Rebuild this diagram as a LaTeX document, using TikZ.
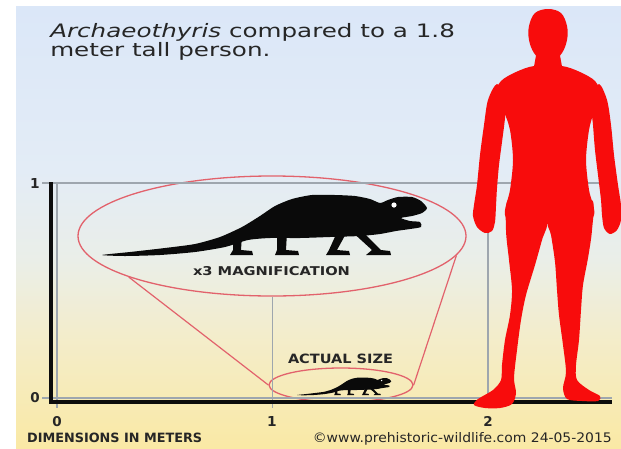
\documentclass[tikz,border=0pt]{standalone}
\usepackage{fontspec}
\usepackage{graphicx}
\setmainfont{DejaVu Sans}
\usetikzlibrary{shapes.geometric}

\definecolor{bgA}{RGB}{219,231,248}
\definecolor{bgB}{RGB}{227,236,246}
\definecolor{bgC}{RGB}{234,238,232}
\definecolor{bgD}{RGB}{243,237,205}
\definecolor{bgE}{RGB}{250,233,165}
\definecolor{gridgray}{RGB}{158,166,174}
\definecolor{axisblack}{RGB}{12,12,12}
\definecolor{ringred}{RGB}{226,98,108}
\definecolor{personred}{RGB}{248,12,12}
\definecolor{dinoblack}{RGB}{10,10,10}
\definecolor{inkgray}{RGB}{38,38,38}

% Archaeothyris silhouette, drawn in its full-size position
\newcommand{\archdino}{%
  \fill[dinoblack] plot[smooth cycle, tension=0.4] coordinates {
    (102,255) (130,252) (165,248) (195,244) (220,237) (242,227) (260,216)
    (275,206) (292,199) (312,195) (335,195) (355,196) (370,199) (380,203)
    (388,200) (398,197) (412,197) (421,201) (427,208) (422,213) (412,216)
    (401,218) (410,221) (420,222) (421,227) (410,229) (396,231) (380,234)
    (360,236) (330,237) (300,238) (270,238) (248,240) (225,247) (195,252)
    (160,255) (125,256)};
  % legs and feet
  \fill[dinoblack] (233,235) -- (242,235) -- (241,250) -- (252,251) -- (253,255) -- (230,255) -- (233,250) -- cycle;
  \fill[dinoblack] (277,232) -- (287,232) -- (286,250) -- (298,251) -- (299,255) -- (275,255) -- (277,250) -- cycle;
  \fill[dinoblack] (338,230) -- (348,230) -- (337,250) -- (349,251) -- (350,255) -- (326,255) -- (329,250) -- cycle;
  \fill[dinoblack] (349,229) -- (360,229) -- (381,250) -- (390,251) -- (391,255) -- (366,255) -- (372,250) -- cycle;
  % eye
  \fill[white] (394,205) circle[radius=2.6];
}

\begin{document}
\begin{tikzpicture}[x=1pt,y=-1pt,
  gridline/.style={draw=gridgray, line width=1.4pt},
  axisline/.style={draw=axisblack, line width=4pt, line join=miter},
  zoomring/.style={shape=ellipse, draw=ringred, line width=1.3pt, inner sep=0pt},
  zoomray/.style={draw=ringred, line width=1.2pt},
  inktext/.style={text=inkgray, inner sep=0pt},
  bodypart/.style={fill=personred},
]
\useasboundingbox (0,0) rectangle (621,448);
\fill[white] (0,0) rectangle (621,448);

\begin{scope}
\clip (0,0) rectangle (621,448);

% sky-to-sand background
\shade[top color=bgA, bottom color=bgB] (16,6) rectangle (621,171);
\shade[top color=bgB, bottom color=bgC] (16,170) rectangle (621,261);
\shade[top color=bgC, bottom color=bgD] (16,260) rectangle (621,331);
\shade[top color=bgD, bottom color=bgE] (16,330) rectangle (621,448);

% magnifier rings
\node[zoomring, minimum width=388pt, minimum height=120pt] (bigview) at (272,236) {};
\node[zoomring, minimum width=144pt, minimum height=34pt] (smallview) at (341,385) {};
\draw[zoomray] (bigview.196) -- (smallview.west);
\draw[zoomray] (bigview.354) -- (smallview.east);

% grid
\coordinate (g1l) at (42,183);  \coordinate (g1r) at (612,183);
\coordinate (g0l) at (42,398);  \coordinate (g0r) at (612,398);
\coordinate (v0t) at (57,183);  \coordinate (v0b) at (57,408);
\coordinate (v1b) at (272,408);
\coordinate (v2t) at (488,183); \coordinate (v2b) at (488,408);
\draw[gridline] (g1l) -- (g1r);
\draw[gridline] (g0l) -- (g0r);
\draw[gridline] (v0t) -- (v0b);
\draw[gridline, line width=1pt] (bigview.south) -- (v1b);
\draw[gridline] (v2t) -- (v2b);

% axes
\coordinate (ytip) at (51,182);
\coordinate (origin) at (51,402);
\coordinate (xtip) at (612,402);
\draw[axisline] (ytip) -- (origin) -- (xtip);

% the animal, magnified and at scale
\archdino
\begin{scope}[shift={(297,395)}, scale=0.29, shift={(-102,-255)}]
  \archdino
\end{scope}

% 1.8 m person, built from overlapping body parts
% head and neck
\fill[bodypart] plot[smooth cycle, tension=0.6] coordinates {
  (548,9) (561,13) (567,26) (567,40) (562,53) (553,61) (543,61) (534,53) (529,40) (529,26) (535,13)};
\fill[bodypart] (537,50) -- (559,50) -- (563,72) -- (533,72) -- cycle;
% torso
\fill[bodypart] plot[smooth cycle, tension=0.5] coordinates {
  (534,66) (562,66) (580,72) (595,81) (601,95) (594,112) (589,130) (586,160)
  (589,190) (594,215) (575,230) (547,224) (520,230) (505,215) (510,190) (513,160)
  (510,130) (504,112) (495,95) (501,81) (516,72)};
% left arm
\fill[bodypart] plot[smooth cycle, tension=0.5] coordinates {
  (497,84) (488,100) (484,125) (480,155) (477,185) (474,205) (473,216) (477,227)
  (485,233) (492,231) (495,222) (496,206) (497,188) (499,165) (502,142) (505,118)
  (506,98)};
% right arm
\fill[bodypart] plot[smooth cycle, tension=0.5] coordinates {
  (599,84) (607,100) (611,125) (614,155) (618,185) (621,205) (621,220) (617,230)
  (610,234) (604,228) (602,215) (601,200) (598,175) (595,150) (593,125) (591,100)};
% left leg
\fill[bodypart] plot[smooth cycle, tension=0.5] coordinates {
  (508,200) (506,230) (509,260) (512,290) (510,315) (505,340) (502,365) (501,380)
  (493,390) (478,399) (474,405) (485,408) (500,408) (512,404) (516,393) (514,378)
  (517,350) (521,320) (526,295) (535,265) (542,240) (547,222) (530,212)};
% right leg
\fill[bodypart] plot[smooth cycle, tension=0.5] coordinates {
  (592,200) (592,230) (588,258) (583,285) (581,310) (579,340) (576,365) (577,380)
  (589,390) (600,396) (598,401) (582,401) (567,399) (563,388) (566,372) (563,345)
  (559,315) (557,290) (555,262) (551,235) (548,222) (565,212)};

% texts
\node[inktext, anchor=base west, xscale=1.33, font=\fontsize{18.5}{18.5}\selectfont] (title1) at (50,37.5) {\textit{Archaeothyris} compared to a 1.8};
\node[inktext, anchor=base west, xscale=1.33, font=\fontsize{18.5}{18.5}\selectfont] (title2) at (50,56) {meter tall person.};
\node[inktext, anchor=base] (magnote) at (271.5,275.5) {\resizebox{157pt}{9pt}{\bfseries x3 MAGNIFICATION}};
\node[inktext, anchor=base] (sizenote) at (340.5,363) {\resizebox{105pt}{9.5pt}{\bfseries ACTUAL SIZE}};
\node[inktext, anchor=base] (yone) at (35,188) {\resizebox{!}{10pt}{\bfseries 1}};
\node[inktext, anchor=base] (yzero) at (35,402) {\resizebox{!}{10pt}{\bfseries 0}};
\node[inktext, anchor=base] (xzero) at (57,426) {\resizebox{!}{10pt}{\bfseries 0}};
\node[inktext, anchor=base] (xone) at (272,426) {\resizebox{!}{10pt}{\bfseries 1}};
\node[inktext, anchor=base] (xtwo) at (488,426) {\resizebox{!}{10pt}{\bfseries 2}};
\node[inktext, anchor=base west] (units) at (27,442) {\resizebox{175pt}{9.5pt}{\bfseries DIMENSIONS IN METERS}};
\node[inktext, anchor=base east] (credit) at (612,442) {\resizebox{299pt}{10pt}{©www.prehistoric-wildlife.com 24-05-2015}};
\end{scope}
\end{tikzpicture}
\end{document}
